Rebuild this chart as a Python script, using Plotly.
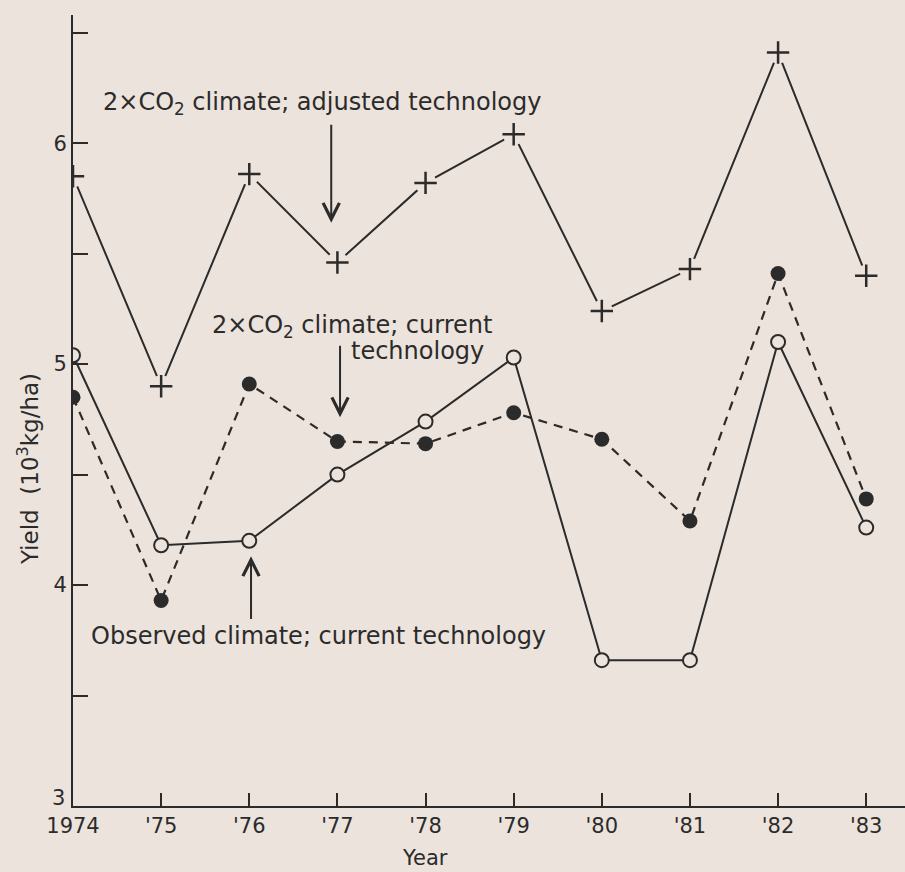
import plotly.graph_objects as go

years = [1974, 1975, 1976, 1977, 1978, 1979, 1980, 1981, 1982, 1983]
tick_labels = ["1974", "'75", "'76", "'77", "'78", "'79", "'80", "'81", "'82", "'83"]
adjusted_tech = [5.85, 4.90, 5.86, 5.46, 5.82, 6.04, 5.24, 5.43, 6.41, 5.40]
co2_current = [4.85, 3.93, 4.91, 4.65, 4.64, 4.78, 4.66, 4.29, 5.41, 4.39]
observed = [5.04, 4.18, 4.20, 4.50, 4.74, 5.03, 3.66, 3.66, 5.10, 4.26]
y_major_vals = [4, 5, 6]
y_major_text = ["4", "5", "6"]
y_minor_vals = [3.5, 4.5, 5.5, 6.5]
y_origin_label = "3"

ink = "#2b2b2b"
paper = "#ece3dc"
fnt = "DejaVu Sans"

fig = go.Figure()
# adjusted technology: line, then paper-coloured halo (gap), then cross
fig.add_trace(go.Scatter(
    x=years, y=adjusted_tech, mode="lines",
    line=dict(color=ink, width=2),
))
fig.add_trace(go.Scatter(
    x=years, y=adjusted_tech, mode="markers",
    marker=dict(symbol="circle", size=22, color=paper, line=dict(width=0)),
))
fig.add_trace(go.Scatter(
    x=years, y=adjusted_tech, mode="markers",
    marker=dict(symbol="cross-thin", size=16, line=dict(color=ink, width=2.5)),
))
fig.add_trace(go.Scatter(
    x=years, y=co2_current, mode="lines+markers",
    line=dict(color=ink, width=2.2, dash="9px,7px"),
    marker=dict(symbol="circle", size=15, color=ink, line=dict(color=ink, width=0)),
))
fig.add_trace(go.Scatter(
    x=years, y=observed, mode="lines+markers",
    line=dict(color=ink, width=2),
    marker=dict(symbol="circle", size=14, color=paper, line=dict(color=ink, width=2)),
))

ann_font = dict(family=fnt, size=24, color=ink)
arrow_kw = dict(xref="x", yref="y", axref="x", ayref="y", text="", showarrow=True,
                arrowhead=5, arrowsize=1.6, arrowwidth=2, arrowcolor=ink)
annotations = [
    dict(x=1976.82, y=6.18, xref="x", yref="y", text="2×CO<sub>2</sub> climate; adjusted technology",
         showarrow=False, font=ann_font, xanchor="center", yanchor="middle"),
    dict(x=1977.17, y=5.17, xref="x", yref="y", text="2×CO<sub>2</sub> climate; current",
         showarrow=False, font=ann_font, xanchor="center", yanchor="middle"),
    dict(x=1977.91, y=5.06, xref="x", yref="y", text="technology",
         showarrow=False, font=ann_font, xanchor="center", yanchor="middle"),
    dict(x=1976.79, y=3.77, xref="x", yref="y", text="Observed climate; current technology",
         showarrow=False, font=ann_font, xanchor="center", yanchor="middle"),
    dict(x=1976.93, y=5.64, ax=1976.93, ay=6.09, **arrow_kw),
    dict(x=1977.03, y=4.76, ax=1977.03, ay=5.09, **arrow_kw),
    dict(x=1976.02, y=4.13, ax=1976.02, ay=3.84, **arrow_kw),
    # y-axis origin label, raised slightly above the corner as in the original
    dict(x=0, y=3, xref="paper", yref="y", text=y_origin_label, showarrow=False,
         xanchor="right", yanchor="middle", xshift=-6, yshift=8,
         font=dict(family=fnt, size=21, color=ink)),
    dict(x=-0.054, y=0.426, xref="paper", yref="paper", text="Yield  (10<sup>3</sup>kg/ha)",
         textangle=-90, showarrow=False, xanchor="center", yanchor="middle",
         font=dict(family=fnt, size=23, color=ink)),
    dict(x=0.423, y=-0.066, xref="paper", yref="paper", text="Year",
         showarrow=False, xanchor="center", yanchor="middle",
         font=dict(family=fnt, size=21, color=ink)),
]

fig.update_layout(
    width=905, height=872,
    margin=dict(l=73, r=0, t=15, b=66),
    paper_bgcolor=paper, plot_bgcolor=paper,
    showlegend=False,
    annotations=annotations,
    xaxis=dict(range=[1974, 1983.44], tickvals=years, ticktext=tick_labels,
               ticks="inside", ticklen=13, tickwidth=2, tickcolor=ink,
               showline=True, linecolor=ink, linewidth=2, showgrid=False, zeroline=False,
               tickfont=dict(family=fnt, size=21, color=ink)),
    yaxis=dict(range=[3, 6.58], tickvals=y_major_vals, ticktext=y_major_text,
               ticks="inside", ticklen=15, tickwidth=2, tickcolor=ink,
               minor=dict(tickvals=y_minor_vals, ticks="inside", ticklen=15,
                          tickwidth=2, tickcolor=ink, showgrid=False),
               showline=True, linecolor=ink, linewidth=2, showgrid=False, zeroline=False,
               tickfont=dict(family=fnt, size=21, color=ink)),
)

fig.write_html(
    "out.html",
    config={"displayModeBar": False},
    post_script="document.body.style.margin='0';document.body.style.background='" + paper + "';",
)
